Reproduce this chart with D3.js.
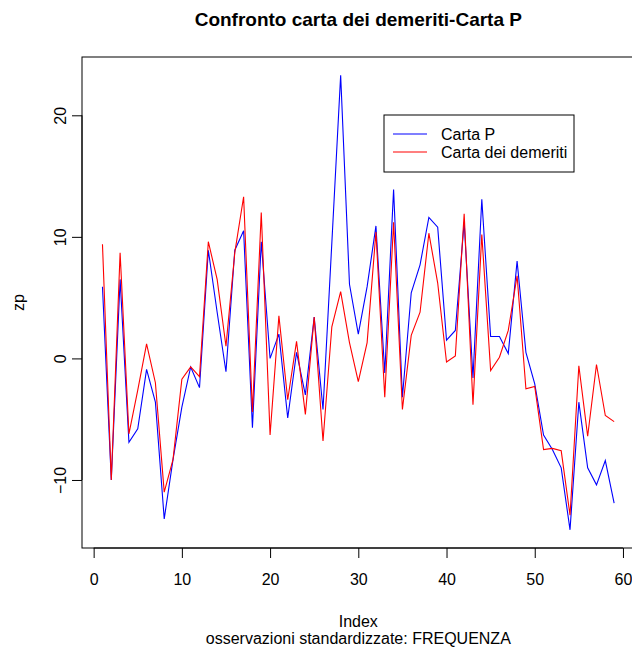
<!DOCTYPE html>
<html>
<head>
<meta charset="utf-8">
<script src="https://cdn.jsdelivr.net/npm/d3@7"></script>
<style>
  html, body { margin: 0; padding: 0; background: #fff; }
  svg { display: block; font-family: "Liberation Sans", Arial, sans-serif; }
</style>
</head>
<body>
<svg id="chart" width="632" height="648"></svg>
<script>
// Standardised observations, one value per index 1..59
const cartaP = [
  5.9, -10.0, 6.5, -6.9, -5.8, -0.9, -3.6, -13.2, -8.3, -4.0,
  -0.7, -2.4, 8.9, 3.8, -1.1, 8.9, 10.5, -5.7, 9.6, 0.0,
  2.0, -4.9, 0.5, -3.0, 3.4, -4.2, 9.5, 23.3, 6.1, 2.0,
  5.9, 10.9, -1.2, 13.9, -3.2, 5.4, 7.7, 11.6, 10.8, 1.5,
  2.3, 11.2, -1.6, 13.1, 1.8, 1.8, 0.4, 8.0, 0.5, -2.1,
  -6.3, -7.5, -9.0, -14.1, -3.6, -9.0, -10.4, -8.4, -11.9
];
const cartaDemeriti = [
  9.4, -10.0, 8.7, -6.2, -2.6, 1.2, -2.0, -11.0, -8.3, -1.7,
  -0.7, -1.5, 9.6, 6.5, 1.0, 8.7, 13.3, -4.4, 12.0, -6.3,
  3.5, -3.4, 1.4, -4.6, 3.4, -6.8, 2.6, 5.5, 1.3, -1.9,
  1.3, 10.4, -3.2, 11.2, -4.2, 1.9, 3.8, 10.3, 6.2, -0.3,
  0.2, 11.9, -3.8, 10.2, -1.0, 0.1, 2.3, 6.8, -2.5, -2.3,
  -7.5, -7.4, -7.6, -12.9, -0.6, -6.4, -0.5, -4.7, -5.2
];
const xTicks = [0, 10, 20, 30, 40, 50, 60];
const yTicks = [-10, 0, 10, 20];
const seriesNames = ["Carta P", "Carta dei demeriti"];
const seriesColors = ["#0000ff", "#ff0000"];

const titleText = "Confronto carta dei demeriti-Carta P";
const xLabel = "Index";
const yLabel = "zp";
const subText = "osservazioni standardizzate: FREQUENZA";

const svg = d3.select("#chart");

// Plot region
const plotLeft = 82, plotRight = 634.6, plotTop = 57, plotBottom = 548;
const n = cartaP.length;

// Axis limits padded by 4% of the data range on each side
const xPad = 0.04 * (n - 1);
const allY = cartaP.concat(cartaDemeriti);
const yMin = d3.min(allY), yMax = d3.max(allY);
const yPad = 0.04 * (yMax - yMin);

const x = d3.scaleLinear().domain([1 - xPad, n + xPad]).range([plotLeft, plotRight]);
const y = d3.scaleLinear().domain([yMin - yPad, yMax + yPad]).range([plotBottom, plotTop]);

const base = 16;
const fontFam = "Liberation Sans, Arial, sans-serif";

// Frame
svg.append("rect")
  .attr("x", plotLeft).attr("y", plotTop)
  .attr("width", plotRight - plotLeft).attr("height", plotBottom - plotTop)
  .attr("fill", "none").attr("stroke", "#000").attr("stroke-width", 1);

// X axis
const xAxis = svg.append("g")
  .attr("transform", `translate(0,${plotBottom})`)
  .call(d3.axisBottom(x).tickValues(xTicks).tickSize(10).tickPadding(16).tickSizeOuter(0));
xAxis.select(".domain").attr("d", `M${x(xTicks[0])},0H${x(xTicks[xTicks.length - 1])}`);
xAxis.selectAll("text").attr("font-size", base).attr("font-family", fontFam).attr("fill", "#000");

// Y axis
const yAxis = svg.append("g")
  .attr("transform", `translate(${plotLeft},0)`)
  .call(d3.axisLeft(y).tickValues(yTicks).tickSize(10).tickSizeOuter(0));
yAxis.select(".domain").attr("d", `M0,${y(yTicks[0])}V${y(yTicks[yTicks.length - 1])}`);
yAxis.selectAll(".tick text")
  .attr("font-size", base).attr("font-family", fontFam).attr("fill", "#000")
  .attr("x", null).attr("dy", null)
  .attr("text-anchor", "middle")
  .attr("transform", "translate(-16,0) rotate(-90)");

// Series lines
const line = d3.line().x((d, i) => x(i + 1)).y(d => y(d));
[cartaP, cartaDemeriti].forEach((s, k) => {
  svg.append("path")
    .datum(s)
    .attr("d", line)
    .attr("fill", "none")
    .attr("stroke", seriesColors[k])
    .attr("stroke-width", 1.1);
});

// Title and axis labels
svg.append("text")
  .attr("x", (plotLeft + plotRight) / 2).attr("y", 26)
  .attr("text-anchor", "middle")
  .attr("font-size", 19).attr("font-weight", "bold")
  .text(titleText);

svg.append("text")
  .attr("x", (plotLeft + plotRight) / 2).attr("y", 627)
  .attr("text-anchor", "middle").attr("font-size", base)
  .text(xLabel);

svg.append("text")
  .attr("x", (plotLeft + plotRight) / 2).attr("y", 644)
  .attr("text-anchor", "middle").attr("font-size", base)
  .text(subText);

svg.append("text")
  .attr("transform", `translate(24,${(plotTop + plotBottom) / 2}) rotate(-90)`)
  .attr("text-anchor", "middle").attr("font-size", base)
  .text(yLabel);

// Legend
const legend = svg.append("g").attr("transform", "translate(384,115)");
legend.append("rect")
  .attr("x", 0).attr("y", 0).attr("width", 190).attr("height", 57)
  .attr("fill", "#fff").attr("stroke", "#000").attr("stroke-width", 1);
seriesNames.forEach((name, k) => {
  const ly = 19 + k * 18;
  legend.append("line")
    .attr("x1", 9).attr("x2", 43).attr("y1", ly).attr("y2", ly)
    .attr("stroke", seriesColors[k]).attr("stroke-width", 1.1);
  legend.append("text")
    .attr("x", 57).attr("y", ly + 6)
    .attr("font-size", base)
    .text(name);
});
</script>
</body>
</html>
